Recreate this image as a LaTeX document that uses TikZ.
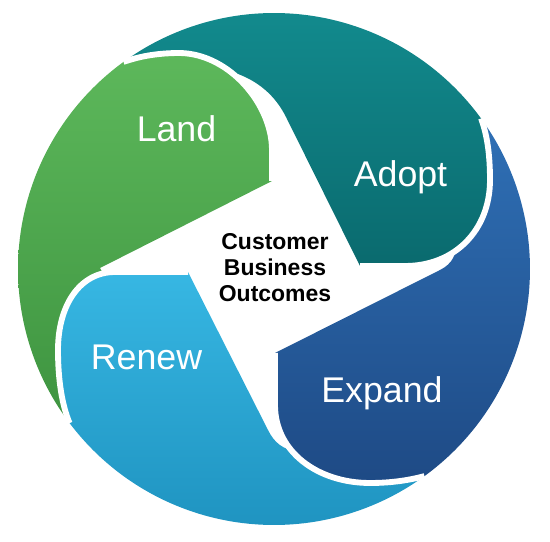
\documentclass[tikz,border=0pt]{standalone}
\usepackage{fontspec}
\setmainfont{Liberation Sans}
\definecolor{landT}{HTML}{5DB85B}
\definecolor{landB}{HTML}{3E9440}
\definecolor{adoptT}{HTML}{128A8D}
\definecolor{adoptB}{HTML}{0A6A6E}
\definecolor{expandT}{HTML}{2F70B6}
\definecolor{expandB}{HTML}{1E4A85}
\definecolor{renewT}{HTML}{37B7E3}
\definecolor{renewB}{HTML}{1F94C1}
\tikzset{
  headG/.style={insert path={(272,181) -- (272,150) .. controls (272,105) and (230,54) .. (180,53) .. controls (155,53) and (138,57) .. (123.53,61.89)}},
  headR/.style={insert path={(188,272) -- (115,272) .. controls (80,272) and (58,305) .. (58,350) .. controls (58,380) and (62,405) .. (69.55,423.07)}},
  headE/.style={insert path={(275,353) -- (275,405) .. controls (275,452) and (318,483) .. (370,483) .. controls (392,483) and (410,480) .. (424.47,476.11)}},
  headA/.style={insert path={(360,266) -- (405,266) .. controls (455,266) and (490,230) .. (490,180) .. controls (490,150) and (486,132) .. (481.11,118.53)}},
  rim/.style 2 args={insert path={-- plot[domain=#1:#2, samples=80, variable=\t] ({274+256*cos(\t)},{269+256*sin(\t)})}},
  landpath/.style={headG, rim={234}{143}, insert path={-- (95,400) -- (130,320) -- (105,277) -- (100,268) -- cycle}},
  renewpath/.style={headR, rim={143}{54}, insert path={-- (400,468) -- (300,452) .. controls (282,450) and (274,442) .. (268,430) -- cycle}},
  expandpath/.style={headE, rim={54}{-36}, insert path={-- (475,135) -- (470,180) -- (455,240) .. controls (458,254) and (452,264) .. (440,270) -- cycle}},
  adoptpath/.style={headA, rim={-36}{-126}, insert path={-- (140,64) -- (180,62) -- (225,70) .. controls (258,78) and (276,97) .. (286,117) -- cycle}},
  landfill/.style={top color=landT, bottom color=landB},
  renewfill/.style={top color=renewT, bottom color=renewB},
  expandfill/.style={top color=expandT, bottom color=expandB},
  adoptfill/.style={top color=adoptT, bottom color=adoptB},
  gap/.style={draw=white, line width=5pt},
  lbl/.style={text=white, font=\fontsize{30.5}{36}\selectfont, inner sep=0pt, anchor=base},
  hub/.style={text=black, font=\bfseries\fontsize{19.6}{22.5}\selectfont, align=center, inner sep=0pt}
}
\begin{document}
\begin{tikzpicture}[x=0.03cm, y=-0.03cm]
\useasboundingbox (0,0) rectangle (550,542);
\path[landfill, landpath];
\path[renewfill, renewpath];
\path[expandfill, expandpath];
\path[adoptfill, adoptpath];
\begin{scope}
  \clip[headG] -- (150,120) -- cycle;
  \path[landfill, landpath];
\end{scope}
\draw[gap, headG];
\draw[gap, headR];
\draw[gap, headE];
\draw[gap, headA];
\node[lbl] (land) at (176.5,142) {Land};
\node[lbl] (adopt) at (400.5,187) {Adopt};
\node[lbl] (expand) at (382,402.5) {Expand};
\node[lbl] (renew) at (146.5,370) {Renew};
\node[hub] (outcomes) at (275,267.5) {Customer\\Business\\Outcomes};
\end{tikzpicture}
\end{document}
